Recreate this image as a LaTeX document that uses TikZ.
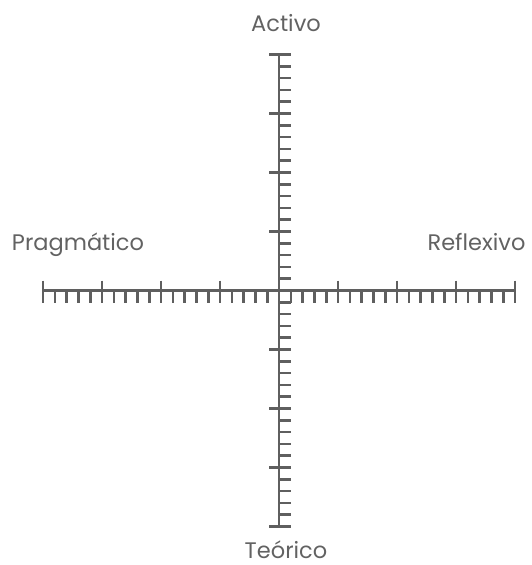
\documentclass[tikz,border=0pt]{standalone}
\usepackage{fontspec}
\setmainfont{Poppins}
\usepackage{xcolor}
\usetikzlibrary{positioning, calc}
\definecolor{axisgray}{HTML}{5F5F5F}
\definecolor{labelgray}{HTML}{626262}

\begin{document}
\begin{tikzpicture}[x=1pt, y=-1pt, line width=2.6pt, color=axisgray]
    \useasboundingbox (0,0) rectangle (531,565);
    % Axis ends
    \coordinate (O) at (279,290.5);
    \coordinate (W) at (43,290.5);
    \coordinate (E) at (515,290.5);
    \coordinate (N) at (279,55);
    \coordinate (S) at (279,527);

    % Axes
    \draw (W) -- (E);
    \draw (N) -- (S);

    % Ticks on the horizontal axis
    \foreach \i in {-20,...,20} {
        \pgfmathtruncatemacro{\m}{mod(abs(\i),5)}
        \ifnum\i=0\else
            \ifnum\m=0
                \draw ($(O)+(\i*11.8,-10)$) -- ($(O)+(\i*11.8,12)$);
            \else
                \draw ($(O)+(\i*11.8,0)$) -- ($(O)+(\i*11.8,12)$);
            \fi
        \fi
    }
    % Ticks on the vertical axis
    \foreach \i in {-20,...,20} {
        \pgfmathtruncatemacro{\m}{mod(abs(\i),5)}
        \ifnum\i=0\else
            \ifnum\m=0
                \draw ($(O)+(-10,\i*11.8)$) -- ($(O)+(12,\i*11.8)$);
            \else
                \draw ($(O)+(0,\i*11.8)$) -- ($(O)+(12,\i*11.8)$);
            \fi
        \fi
    }

    % Labels
    \node[anchor=base, text=labelgray, font=\fontsize{22.5}{26}\selectfont, inner sep=0pt] (Act) at (286,31) {Activo};
    \node[anchor=base, text=labelgray, font=\fontsize{22.5}{26}\selectfont, inner sep=0pt] (Teo) at (286,558) {Teórico};
    \node[anchor=base, text=labelgray, font=\fontsize{22.5}{26}\selectfont, inner sep=0pt] (Prag) at (78,250) {Pragmático};
    \node[anchor=base, text=labelgray, font=\fontsize{22.5}{26}\selectfont, inner sep=0pt] (Ref) at (476.5,250) {Reflexivo};
\end{tikzpicture}
\end{document}
